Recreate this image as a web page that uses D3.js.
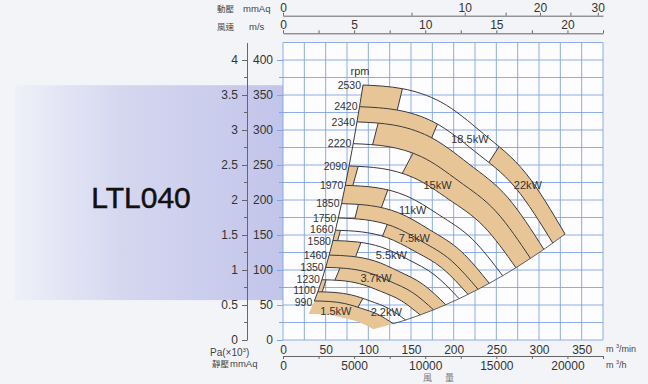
<!DOCTYPE html>
<html lang="zh-Hant">
<head>
<meta charset="UTF-8">
<title>LTL040</title>
<script src="https://cdn.jsdelivr.net/npm/d3@7"></script>
<style>
  body { margin: 0; background: #f3f4f8; }
  svg { display: block; font-family: "Liberation Sans", Arial, sans-serif; }
  .cjk { font-family: "Noto Sans CJK TC", "Noto Sans CJK SC", sans-serif; }
  .unit { font-size: 9.5px; fill: #444; }
  .kw { font-size: 11px; fill: #333; text-anchor: middle; }
  .rpm { font-size: 10.5px; fill: #333; text-anchor: end; }
</style>
</head>
<body>
<svg id="chart" width="648" height="384"></svg>
<script>
// axis tick values
const flowTicks = [0, 50, 100, 150, 200, 250, 300, 350];          // m³/min
const flowHourTicks = [0, 5000, 10000, 15000, 20000];             // m³/h
const velocityTicks = [0, 5, 10, 15, 20];                          // m/s
const dynamicTicks = [0, 10, 20, 30];                              // mmAq
const staticTicks = [0, 50, 100, 150, 200, 250, 300, 350, 400];   // mmAq
const paTicks = [0, 0.5, 1, 1.5, 2, 2.5, 3, 3.5, 4];               // Pa x10³

// rpm curves, points are [m³/min, mmAq static]
const rpmValues = [2530, 2420, 2340, 2220, 2090, 1970, 1850, 1750, 1660, 1580, 1460, 1350, 1230, 1100, 990];
const rpmCurves = [
  [[93.8, 364.3], [140.0, 359.0], [185.0, 340.0], [235.0, 294.5], [285.0, 237.5], [330.5, 151.4]],
  [[89.7, 333.3], [133.9, 328.5], [177.0, 311.1], [224.8, 269.4], [272.6, 217.3], [316.1, 138.5]],
  [[86.7, 311.6], [129.5, 307.1], [171.1, 290.8], [217.4, 251.9], [263.6, 203.2], [305.7, 129.5]],
  [[82.3, 280.5], [122.9, 276.4], [162.3, 261.8], [206.2, 226.8], [250.1, 182.9], [290.0, 116.6]],
  [[77.4, 248.6], [115.7, 245.0], [152.8, 232.0], [194.1, 201.0], [235.4, 162.1], [273.0, 103.3]],
  [[73.0, 220.9], [109.0, 217.7], [144.1, 206.1], [183.0, 178.6], [221.9, 144.0], [257.4, 91.8]],
  [[68.6, 194.8], [102.4, 192.0], [135.3, 181.8], [171.8, 157.5], [208.4, 127.0], [241.7, 81.0]],
  [[64.8, 174.3], [96.8, 171.7], [128.0, 162.7], [162.6, 140.9], [197.1, 113.6], [228.6, 72.4]],
  [[61.5, 156.8], [91.9, 154.5], [121.4, 146.4], [154.2, 126.8], [187.0, 102.2], [216.8, 65.2]],
  [[58.5, 142.1], [87.4, 140.0], [115.5, 132.6], [146.8, 114.9], [178.0, 92.6], [206.4, 59.0]],
  [[54.1, 121.3], [80.8, 119.5], [106.8, 113.2], [135.6, 98.1], [164.5, 79.1], [190.7, 50.4]],
  [[50.0, 103.7], [74.7, 102.2], [98.7, 96.8], [125.4, 83.8], [152.1, 67.6], [176.4, 43.1]],
  [[45.6, 86.1], [68.1, 84.9], [89.9, 80.4], [114.3, 69.6], [138.6, 56.1], [160.7, 35.8]],
  [[40.8, 68.9], [60.9, 67.9], [80.4, 64.3], [102.2, 55.7], [123.9, 44.9], [143.7, 28.6]],
  [[36.7, 55.8], [54.8, 55.0], [72.4, 52.1], [92.0, 45.1], [111.5, 36.4], [129.3, 23.2]]
];
// unlabeled lower edge of the 1.5kW zone
const bottomEdge = [[30.0, 37.3], [44.8, 36.8], [59.2, 34.8], [75.2, 30.2], [91.2, 24.3], [105.8, 15.5]];

// motor limit cuts inside each band (between curve i and i+1): [top point, bottom point]
const bandCuts = [
  [[[139.5, 357.0], [134.8, 333.0]], [[252.0, 274.0], [241.4, 254.0]]],
  [[[180.5, 307.0], [174.6, 290.0]]],
  [[[111.3, 308.6], [105.5, 281.4]]],
  [[[151.2, 264.3], [140.6, 240.0]]],
  [[[87.9, 247.1], [82.0, 221.4]]],
  [[[121.9, 211.4], [116.0, 191.4]]],
  [[[87.9, 191.4], [84.4, 174.3]]],
  [[[121.9, 164.3], [117.2, 150.0]]],
  [[[66.8, 154.3], [63.3, 138.6]]],
  [[[90.2, 135.7], [86.7, 124.3]]],
  [],
  [[[66.8, 102.9], [60.9, 85.7]]],
  [[[50.5, 86.0], [46.0, 69.0]]],
  [[[92.6, 57.1], [87.9, 47.1]]],
  []
];
// which pieces of each band are shaded (left to right)
const bandShaded = [
  [1, 0, 1], [1, 0], [0, 1], [0, 1], [1, 0], [1, 0], [0, 1], [0, 1],
  [1, 0], [1, 0], [1], [0, 1], [1, 0], [1, 0], [1]
];

const kwNames = ["1.5kW", "2.2kW", "3.7kW", "5.5kW", "7.5kW", "11kW", "15kW", "18.5kW", "22kW"];
const kwLabelAt = [[62, 41], [121, 40], [109, 89], [127, 121], [154, 146], [152, 186], [181, 221], [219, 287], [287, 221]];

const FONT = '"Liberation Sans", Arial, sans-serif';
const TAN = "#e8c597";
const INK = "#3a3a3a";
// small vertical nudges (px) so crowded rpm labels don't collide
const labelNudge = { 1100: -1.5, 990: 1.5, 1660: -1, 1580: 1 };

const svg = d3.select("#chart");
const x = d3.scaleLinear().domain([0, 375]).range([283, 603]);
const y = d3.scaleLinear().domain([0, 425]).range([340, 42.5]);
const xHour = d3.scaleLinear().domain([0, 22500]).range(x.range());
const xVel = d3.scaleLinear().domain([0, 22.5]).range(x.range());
const xDyn = d3.scaleSqrt().domain([0, 31]).range(x.range());
const yPa = d3.scaleLinear().domain([0, 4.25]).range(y.range());

const defs = svg.append("defs");
const grad = defs.append("linearGradient").attr("id", "bandGrad");
grad.selectAll("stop")
  .data([[0, "#eef0f8"], [0.4, "#d5d7f0"], [1, "#c2c5ea"]])
  .join("stop")
  .attr("offset", d => d[0])
  .attr("stop-color", d => d[1]);

// lavender band behind the model name
svg.append("rect")
  .attr("x", 15).attr("width", x(0) - 15)
  .attr("y", y(364)).attr("height", y(57) - y(364))
  .attr("fill", "url(#bandGrad)");

svg.append("text")
  .attr("x", 141).attr("y", 208)
  .attr("text-anchor", "middle")
  .attr("font-size", 30)
  .attr("fill", "#111").attr("stroke", "#111").attr("stroke-width", 0.5)
  .text("LTL040");

// plot area + grid
svg.append("rect")
  .attr("x", x(0)).attr("y", y(425))
  .attr("width", x(375) - x(0)).attr("height", y(0) - y(425))
  .attr("fill", "#fdfdff");

const grid = svg.append("g").attr("stroke", "#7fa4e2").attr("stroke-width", 0.9);
grid.selectAll(".v").data(d3.range(0, 376, 25)).join("line")
  .attr("x1", d => x(d)).attr("x2", d => x(d))
  .attr("y1", y(0)).attr("y2", y(425));
grid.selectAll(".h").data(d3.range(0, 426, 25)).join("line")
  .attr("x1", x(0)).attr("x2", x(375))
  .attr("y1", d => y(d)).attr("y2", d => y(d));

// fan zones
const line = d3.line().x(d => x(d[0])).y(d => y(d[1])).curve(d3.curveMonotoneX);
const edges = rpmCurves.concat([bottomEdge]);
const bandPath = i => line(edges[i]) + "L" + line(edges[i + 1].slice().reverse()).slice(1) + "Z";

bandCuts.forEach((cuts, i) => {
  const id = "band" + i;
  defs.append("clipPath").attr("id", id).append("path").attr("d", bandPath(i));
  const g = svg.append("g").attr("clip-path", `url(#${id})`);

  const px = cuts.map(c => {
    const T = [x(c[0][0]), y(c[0][1])], B = [x(c[1][0]), y(c[1][1])];
    const len = Math.hypot(T[0] - B[0], T[1] - B[1]);
    const u = [(T[0] - B[0]) / len, (T[1] - B[1]) / len];
    return {
      far: [T[0] + u[0] * 80, T[1] + u[1] * 80],
      top: [T[0] + u[0] * 8, T[1] + u[1] * 8],
      low: [B[0] - u[0] * 8, B[1] - u[1] * 8]
    };
  });

  bandShaded[i].forEach((on, k) => {
    if (!on) return;
    const a = px[k - 1], b = px[k];
    const poly = [];
    poly.push(a ? a.far : [0, 0]);
    if (b) poly.push(b.far, b.low); else poly.push([900, -300], [900, 900]);
    poly.push(a ? a.low : [0, 400]);
    g.append("path").attr("d", "M" + poly.join("L") + "Z").attr("fill", TAN);
  });

  px.forEach(c => {
    g.append("line")
      .attr("x1", c.top[0]).attr("y1", c.top[1])
      .attr("x2", c.low[0]).attr("y2", c.low[1])
      .attr("stroke", INK).attr("stroke-width", 1);
  });
});

svg.append("g").selectAll("path").data(rpmCurves).join("path")
  .attr("d", line)
  .attr("fill", "none").attr("stroke", INK).attr("stroke-width", 1);

const straight = d3.line().x(d => x(d[0])).y(d => y(d[1]));
svg.append("path").attr("d", straight(rpmCurves.map(c => c[0])))
  .attr("fill", "none").attr("stroke", INK).attr("stroke-width", 1);
svg.append("path").attr("d", straight(rpmCurves.map(c => c[c.length - 1])))
  .attr("fill", "none").attr("stroke", INK).attr("stroke-width", 0.8);

// rpm labels
svg.append("g").selectAll("text").data(rpmValues).join("text")
  .attr("class", "rpm")
  .attr("x", (d, i) => x(rpmCurves[i][0][0]) - 2)
  .attr("y", (d, i) => y(rpmCurves[i][0][1]) + (labelNudge[d] || 0))
  .attr("dy", "0.35em")
  .text(d => d);
svg.append("text").attr("class", "kw")
  .attr("x", x(rpmCurves[0][0][0]) - 3).attr("y", y(rpmCurves[0][0][1]) - 14)
  .attr("dy", "0.35em").text("rpm");

svg.append("g").selectAll("text").data(kwNames).join("text")
  .attr("class", "kw")
  .attr("x", (d, i) => x(kwLabelAt[i][0]))
  .attr("y", (d, i) => y(kwLabelAt[i][1]))
  .attr("dy", "0.35em")
  .text(d => d);

// axes
function styleAxis(g, size) {
  g.attr("font-family", FONT).attr("font-size", size).attr("color", "#666");
  g.selectAll("text").attr("fill", "#333");
}

// Pa x10³
const paG = svg.append("g").attr("transform", `translate(247,0)`)
  .call(d3.axisLeft(yPa).tickValues(paTicks).tickSize(5).tickSizeOuter(0).tickPadding(4).tickFormat(d => String(d)));
styleAxis(paG, 12);
paG.selectAll(".minor").data(d3.range(0.25, 4.25, 0.5)).join("line")
  .attr("x1", -3).attr("x2", 0).attr("y1", d => yPa(d)).attr("y2", d => yPa(d))
  .attr("stroke", "#666");

// static pressure mmAq
const stG = svg.append("g").attr("transform", `translate(${x(0)},0)`)
  .call(d3.axisLeft(y).tickValues(staticTicks).tickSize(6).tickPadding(4));
styleAxis(stG, 12);
stG.select(".domain").remove();
stG.selectAll(".tick line").attr("stroke", "#7fa4e2");
stG.selectAll(".minor").data(d3.range(25, 425, 50)).join("line")
  .attr("x1", -4).attr("x2", 0).attr("y1", d => y(d)).attr("y2", d => y(d))
  .attr("stroke", "#7fa4e2");

// flow m³/min
const flG = svg.append("g").attr("transform", `translate(0,${y(0)})`)
  .call(d3.axisBottom(x).tickValues(flowTicks).tickSize(0).tickPadding(5));
styleAxis(flG, 12);
flG.select(".domain").remove();

// flow m³/h
const fhG = svg.append("g").attr("transform", "translate(0,356)")
  .call(d3.axisBottom(xHour).tickValues(d3.range(0, 22501, 2500)).tickSize(3).tickSizeOuter(0).tickPadding(2)
    .tickFormat(d => flowHourTicks.includes(d) ? d : ""));
styleAxis(fhG, 12);

// velocity m/s
const veG = svg.append("g").attr("transform", "translate(0,33.3)")
  .call(d3.axisTop(xVel).tickValues(d3.range(0, 22.6, 2.5)).tickSize(3).tickSizeOuter(0).tickPadding(1)
    .tickFormat(d => velocityTicks.includes(d) ? d : ""));
styleAxis(veG, 12);

// dynamic pressure mmAq
const dyG = svg.append("g").attr("transform", "translate(0,15.7)")
  .call(d3.axisTop(xDyn).tickValues([0, 5, 10, 15, 20, 25, 30]).tickSize(3).tickSizeOuter(0).tickPadding(1)
    .tickFormat(d => dynamicTicks.includes(d) ? d : ""));
styleAxis(dyG, 12);

// axis titles
function label(txt, px, py, cls, size) {
  return svg.append("text").attr("x", px).attr("y", py).attr("class", cls)
    .attr("font-size", size).attr("fill", "#444").text(txt);
}
label("動壓", 217, 11.5, "cjk", 8.5);
label("mmAq", 243, 11.5, "unit", 9.5);
label("風速", 217, 30, "cjk", 8.5);
label("m/s", 249, 30, "unit", 9.5);
label("靜壓", 212, 367, "cjk", 8.5);
label("mmAq", 230, 367, "unit", 9.5);
label("風", 423, 381, "cjk", 9).attr("fill", "#777");
label("量", 445, 381, "cjk", 9).attr("fill", "#777");

function supLabel(a, b, px, py, size) {
  const t = svg.append("text").attr("x", px).attr("y", py).attr("font-size", size).attr("fill", "#444");
  t.append("tspan").text(a[0]);
  t.append("tspan").attr("font-size", size * 0.62).attr("dy", -size * 0.4).text(a[1]);
  t.append("tspan").attr("dy", size * 0.4).text(b);
  return t;
}
supLabel(["Pa(×10", "3"], ")", 210, 355.5, 10);
supLabel(["m ", "3"], "/min", 606, 351.5, 9);
supLabel(["m ", "3"], "/h", 606, 368, 9);
</script>
</body>
</html>
